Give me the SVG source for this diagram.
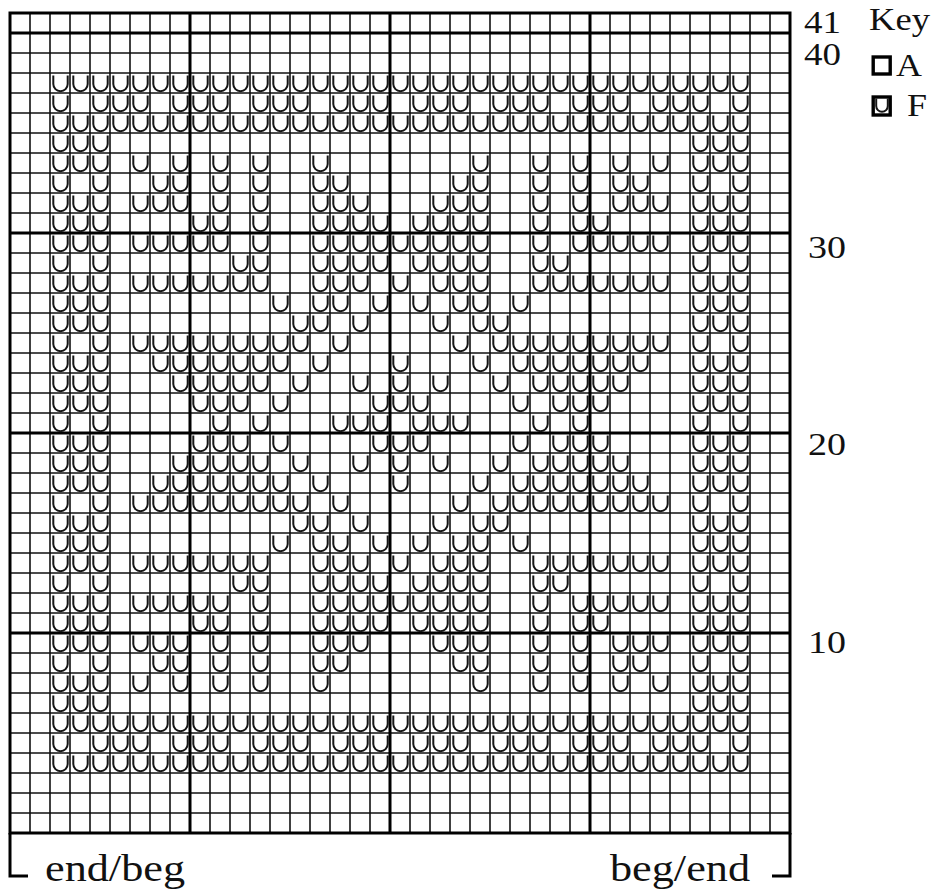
<svg xmlns="http://www.w3.org/2000/svg" width="940" height="891" viewBox="0 0 940 891">
<style>
.thin{stroke:#111;stroke-width:1.6;fill:none}
.thick{stroke:#000;stroke-width:3;fill:none}
.kbox{stroke:#000;stroke-width:3.4;fill:none}
.st{stroke:#151515;stroke-width:2;fill:none;stroke-linecap:butt}
.lbl{font-family:"Liberation Serif","Times New Roman",serif;fill:#111}
</style>
<defs>
<path id="u" class="st" d="M3.3 2.5V11A7.2 7.2 0 0 0 17.7 11V2.5"/>
<g id="pA"><use href="#u" x="50"/><use href="#u" x="70"/><use href="#u" x="90"/><use href="#u" x="110"/><use href="#u" x="130"/><use href="#u" x="150"/><use href="#u" x="170"/><use href="#u" x="190"/><use href="#u" x="210"/><use href="#u" x="230"/><use href="#u" x="250"/><use href="#u" x="270"/><use href="#u" x="290"/><use href="#u" x="310"/><use href="#u" x="330"/><use href="#u" x="350"/><use href="#u" x="370"/><use href="#u" x="390"/><use href="#u" x="410"/><use href="#u" x="430"/><use href="#u" x="450"/><use href="#u" x="470"/><use href="#u" x="490"/><use href="#u" x="510"/><use href="#u" x="530"/><use href="#u" x="550"/><use href="#u" x="570"/><use href="#u" x="590"/><use href="#u" x="610"/><use href="#u" x="630"/><use href="#u" x="650"/><use href="#u" x="670"/><use href="#u" x="690"/><use href="#u" x="710"/><use href="#u" x="730"/></g>
<g id="pB"><use href="#u" x="50"/><use href="#u" x="90"/><use href="#u" x="110"/><use href="#u" x="130"/><use href="#u" x="170"/><use href="#u" x="190"/><use href="#u" x="210"/><use href="#u" x="250"/><use href="#u" x="270"/><use href="#u" x="290"/><use href="#u" x="330"/><use href="#u" x="350"/><use href="#u" x="370"/><use href="#u" x="410"/><use href="#u" x="430"/><use href="#u" x="450"/><use href="#u" x="490"/><use href="#u" x="510"/><use href="#u" x="530"/><use href="#u" x="570"/><use href="#u" x="590"/><use href="#u" x="610"/><use href="#u" x="650"/><use href="#u" x="670"/><use href="#u" x="690"/><use href="#u" x="730"/></g>
<g id="pC"><use href="#u" x="50"/><use href="#u" x="70"/><use href="#u" x="90"/><use href="#u" x="690"/><use href="#u" x="710"/><use href="#u" x="730"/></g>
<g id="pD"><use href="#u" x="50"/><use href="#u" x="70"/><use href="#u" x="90"/><use href="#u" x="130"/><use href="#u" x="170"/><use href="#u" x="210"/><use href="#u" x="250"/><use href="#u" x="310"/><use href="#u" x="470"/><use href="#u" x="530"/><use href="#u" x="570"/><use href="#u" x="610"/><use href="#u" x="650"/><use href="#u" x="690"/><use href="#u" x="710"/><use href="#u" x="730"/></g>
<g id="pE"><use href="#u" x="50"/><use href="#u" x="90"/><use href="#u" x="150"/><use href="#u" x="170"/><use href="#u" x="210"/><use href="#u" x="250"/><use href="#u" x="310"/><use href="#u" x="330"/><use href="#u" x="450"/><use href="#u" x="470"/><use href="#u" x="530"/><use href="#u" x="570"/><use href="#u" x="610"/><use href="#u" x="630"/><use href="#u" x="690"/><use href="#u" x="730"/></g>
<g id="pF"><use href="#u" x="50"/><use href="#u" x="70"/><use href="#u" x="90"/><use href="#u" x="130"/><use href="#u" x="150"/><use href="#u" x="170"/><use href="#u" x="210"/><use href="#u" x="250"/><use href="#u" x="310"/><use href="#u" x="330"/><use href="#u" x="350"/><use href="#u" x="430"/><use href="#u" x="450"/><use href="#u" x="470"/><use href="#u" x="530"/><use href="#u" x="570"/><use href="#u" x="610"/><use href="#u" x="630"/><use href="#u" x="650"/><use href="#u" x="690"/><use href="#u" x="710"/><use href="#u" x="730"/></g>
<g id="pG"><use href="#u" x="50"/><use href="#u" x="70"/><use href="#u" x="90"/><use href="#u" x="190"/><use href="#u" x="210"/><use href="#u" x="250"/><use href="#u" x="310"/><use href="#u" x="330"/><use href="#u" x="350"/><use href="#u" x="370"/><use href="#u" x="410"/><use href="#u" x="430"/><use href="#u" x="450"/><use href="#u" x="470"/><use href="#u" x="530"/><use href="#u" x="570"/><use href="#u" x="590"/><use href="#u" x="690"/><use href="#u" x="710"/><use href="#u" x="730"/></g>
<g id="pH"><use href="#u" x="50"/><use href="#u" x="70"/><use href="#u" x="90"/><use href="#u" x="130"/><use href="#u" x="150"/><use href="#u" x="170"/><use href="#u" x="190"/><use href="#u" x="210"/><use href="#u" x="250"/><use href="#u" x="310"/><use href="#u" x="330"/><use href="#u" x="350"/><use href="#u" x="370"/><use href="#u" x="390"/><use href="#u" x="410"/><use href="#u" x="430"/><use href="#u" x="450"/><use href="#u" x="470"/><use href="#u" x="530"/><use href="#u" x="570"/><use href="#u" x="590"/><use href="#u" x="610"/><use href="#u" x="630"/><use href="#u" x="650"/><use href="#u" x="690"/><use href="#u" x="710"/><use href="#u" x="730"/></g>
<g id="pI"><use href="#u" x="50"/><use href="#u" x="90"/><use href="#u" x="230"/><use href="#u" x="250"/><use href="#u" x="310"/><use href="#u" x="330"/><use href="#u" x="350"/><use href="#u" x="370"/><use href="#u" x="410"/><use href="#u" x="430"/><use href="#u" x="450"/><use href="#u" x="470"/><use href="#u" x="530"/><use href="#u" x="550"/><use href="#u" x="690"/><use href="#u" x="730"/></g>
<g id="pJ"><use href="#u" x="50"/><use href="#u" x="70"/><use href="#u" x="90"/><use href="#u" x="130"/><use href="#u" x="150"/><use href="#u" x="170"/><use href="#u" x="190"/><use href="#u" x="210"/><use href="#u" x="230"/><use href="#u" x="250"/><use href="#u" x="310"/><use href="#u" x="330"/><use href="#u" x="350"/><use href="#u" x="390"/><use href="#u" x="430"/><use href="#u" x="450"/><use href="#u" x="470"/><use href="#u" x="530"/><use href="#u" x="550"/><use href="#u" x="570"/><use href="#u" x="590"/><use href="#u" x="610"/><use href="#u" x="630"/><use href="#u" x="650"/><use href="#u" x="690"/><use href="#u" x="710"/><use href="#u" x="730"/></g>
<g id="pK"><use href="#u" x="50"/><use href="#u" x="70"/><use href="#u" x="90"/><use href="#u" x="270"/><use href="#u" x="310"/><use href="#u" x="330"/><use href="#u" x="370"/><use href="#u" x="410"/><use href="#u" x="450"/><use href="#u" x="470"/><use href="#u" x="510"/><use href="#u" x="690"/><use href="#u" x="710"/><use href="#u" x="730"/></g>
<g id="pL"><use href="#u" x="50"/><use href="#u" x="70"/><use href="#u" x="90"/><use href="#u" x="290"/><use href="#u" x="310"/><use href="#u" x="350"/><use href="#u" x="430"/><use href="#u" x="470"/><use href="#u" x="490"/><use href="#u" x="690"/><use href="#u" x="710"/><use href="#u" x="730"/></g>
<g id="pM"><use href="#u" x="50"/><use href="#u" x="90"/><use href="#u" x="130"/><use href="#u" x="150"/><use href="#u" x="170"/><use href="#u" x="190"/><use href="#u" x="210"/><use href="#u" x="230"/><use href="#u" x="250"/><use href="#u" x="270"/><use href="#u" x="290"/><use href="#u" x="330"/><use href="#u" x="450"/><use href="#u" x="490"/><use href="#u" x="510"/><use href="#u" x="530"/><use href="#u" x="550"/><use href="#u" x="570"/><use href="#u" x="590"/><use href="#u" x="610"/><use href="#u" x="630"/><use href="#u" x="650"/><use href="#u" x="690"/><use href="#u" x="730"/></g>
<g id="pN"><use href="#u" x="50"/><use href="#u" x="70"/><use href="#u" x="90"/><use href="#u" x="150"/><use href="#u" x="170"/><use href="#u" x="190"/><use href="#u" x="210"/><use href="#u" x="230"/><use href="#u" x="250"/><use href="#u" x="270"/><use href="#u" x="310"/><use href="#u" x="390"/><use href="#u" x="470"/><use href="#u" x="510"/><use href="#u" x="530"/><use href="#u" x="550"/><use href="#u" x="570"/><use href="#u" x="590"/><use href="#u" x="610"/><use href="#u" x="630"/><use href="#u" x="690"/><use href="#u" x="710"/><use href="#u" x="730"/></g>
<g id="pO"><use href="#u" x="50"/><use href="#u" x="70"/><use href="#u" x="90"/><use href="#u" x="170"/><use href="#u" x="190"/><use href="#u" x="210"/><use href="#u" x="230"/><use href="#u" x="250"/><use href="#u" x="290"/><use href="#u" x="350"/><use href="#u" x="390"/><use href="#u" x="430"/><use href="#u" x="490"/><use href="#u" x="530"/><use href="#u" x="550"/><use href="#u" x="570"/><use href="#u" x="590"/><use href="#u" x="610"/><use href="#u" x="690"/><use href="#u" x="710"/><use href="#u" x="730"/></g>
<g id="pP"><use href="#u" x="50"/><use href="#u" x="70"/><use href="#u" x="90"/><use href="#u" x="190"/><use href="#u" x="210"/><use href="#u" x="230"/><use href="#u" x="270"/><use href="#u" x="370"/><use href="#u" x="390"/><use href="#u" x="410"/><use href="#u" x="510"/><use href="#u" x="550"/><use href="#u" x="570"/><use href="#u" x="590"/><use href="#u" x="690"/><use href="#u" x="710"/><use href="#u" x="730"/></g>
<g id="pQ"><use href="#u" x="50"/><use href="#u" x="90"/><use href="#u" x="210"/><use href="#u" x="250"/><use href="#u" x="330"/><use href="#u" x="350"/><use href="#u" x="370"/><use href="#u" x="410"/><use href="#u" x="430"/><use href="#u" x="450"/><use href="#u" x="530"/><use href="#u" x="570"/><use href="#u" x="690"/><use href="#u" x="730"/></g>
</defs>
<rect width="940" height="891" fill="#fff"/>
<g id="grid">
<path class="thin" d="M30 13V833M50 13V833M70 13V833M90 13V833M110 13V833M130 13V833M150 13V833M170 13V833M210 13V833M230 13V833M250 13V833M270 13V833M290 13V833M310 13V833M330 13V833M350 13V833M370 13V833M410 13V833M430 13V833M450 13V833M470 13V833M490 13V833M510 13V833M530 13V833M550 13V833M570 13V833M610 13V833M630 13V833M650 13V833M670 13V833M690 13V833M710 13V833M730 13V833M750 13V833M770 13V833"/>
<path class="thin" d="M10 53H790M10 73H790M10 93H790M10 113H790M10 133H790M10 153H790M10 173H790M10 193H790M10 213H790M10 253H790M10 273H790M10 293H790M10 313H790M10 333H790M10 353H790M10 373H790M10 393H790M10 413H790M10 453H790M10 473H790M10 493H790M10 513H790M10 533H790M10 553H790M10 573H790M10 593H790M10 613H790M10 653H790M10 673H790M10 693H790M10 713H790M10 733H790M10 753H790M10 773H790M10 793H790M10 813H790"/>
<path class="thick" d="M190 13V833M390 13V833M590 13V833M10 33H790M10 233H790M10 433H790M10 633H790"/>
<rect class="thick" x="10" y="13" width="780" height="820"/>
<path class="thick" d="M10 833V876H28M790 833V876H772"/>
</g>
<g id="stitches">
<use href="#pA" y="73"/><use href="#pB" y="93"/><use href="#pA" y="113"/><use href="#pC" y="133"/><use href="#pD" y="153"/><use href="#pE" y="173"/><use href="#pF" y="193"/><use href="#pG" y="213"/><use href="#pH" y="233"/><use href="#pI" y="253"/><use href="#pJ" y="273"/><use href="#pK" y="293"/><use href="#pL" y="313"/><use href="#pM" y="333"/><use href="#pN" y="353"/><use href="#pO" y="373"/><use href="#pP" y="393"/><use href="#pQ" y="413"/>
<use href="#pP" y="433"/><use href="#pO" y="453"/><use href="#pN" y="473"/><use href="#pM" y="493"/><use href="#pL" y="513"/><use href="#pK" y="533"/><use href="#pJ" y="553"/><use href="#pI" y="573"/><use href="#pH" y="593"/><use href="#pG" y="613"/><use href="#pF" y="633"/><use href="#pE" y="653"/><use href="#pD" y="673"/><use href="#pC" y="693"/><use href="#pA" y="713"/><use href="#pB" y="733"/><use href="#pA" y="753"/>
</g>
<g id="row-labels" class="lbl" font-size="31">
<text x="804" y="33" textLength="37" lengthAdjust="spacingAndGlyphs">41</text>
<text x="804" y="65" textLength="37" lengthAdjust="spacingAndGlyphs">40</text>
<text x="808" y="258" textLength="38" lengthAdjust="spacingAndGlyphs">30</text>
<text x="808" y="455" textLength="38" lengthAdjust="spacingAndGlyphs">20</text>
<text x="808" y="653" textLength="38" lengthAdjust="spacingAndGlyphs">10</text>
</g>
<g id="key">
<text class="lbl" x="869" y="30" font-size="31" textLength="61" lengthAdjust="spacingAndGlyphs">Key</text>
<rect class="kbox" x="873.2" y="57" width="17" height="17"/>
<text class="lbl" x="896" y="76" font-size="31" textLength="26" lengthAdjust="spacingAndGlyphs">A</text>
<rect class="kbox" x="873.2" y="97" width="17" height="18"/>
<path class="st" d="M876.2 98.5V106A5.8 5.8 0 0 0 887.8 106V98.5"/>
<text class="lbl" x="907" y="116" font-size="31" textLength="20" lengthAdjust="spacingAndGlyphs">F</text>
</g>
<g id="ends" class="lbl" font-size="37">
<text x="45" y="881" textLength="140" lengthAdjust="spacingAndGlyphs">end/beg</text>
<text x="610" y="881" textLength="140" lengthAdjust="spacingAndGlyphs">beg/end</text>
</g>
</svg>
